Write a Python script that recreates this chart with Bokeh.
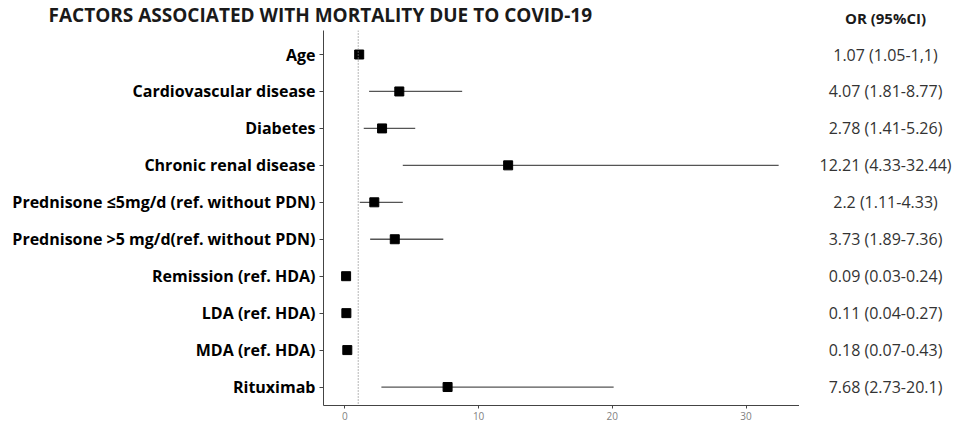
from bokeh.plotting import figure
from bokeh.models import Range1d, FixedTicker, Span, ColumnDataSource
from bokeh.layouts import column, row
from bokeh.core.properties import value
from bokeh.embed import file_html
from bokeh.resources import INLINE

title_text = "FACTORS ASSOCIATED WITH MORTALITY DUE TO COVID-19"
column_header = "OR (95%CI)"
categories = ["Age", "Cardiovascular disease", "Diabetes", "Chronic renal disease",
              "Prednisone \u22645mg/d (ref. without PDN)", "Prednisone >5 mg/d(ref. without PDN)",
              "Remission (ref. HDA)", "LDA (ref. HDA)", "MDA (ref. HDA)", "Rituximab"]
odds = [1.07, 4.07, 2.78, 12.21, 2.2, 3.73, 0.09, 0.11, 0.18, 7.68]
lower = [1.05, 1.81, 1.41, 4.33, 1.11, 1.89, 0.03, 0.04, 0.07, 2.73]
upper = [1.1, 8.77, 5.26, 32.44, 4.33, 7.36, 0.24, 0.27, 0.43, 20.1]
or_labels = ["1.07 (1.05-1,1)", "4.07 (1.81-8.77)", "2.78 (1.41-5.26)", "12.21 (4.33-32.44)",
             "2.2 (1.11-4.33)", "3.73 (1.89-7.36)", "0.09 (0.03-0.24)", "0.11 (0.04-0.27)",
             "0.18 (0.07-0.43)", "7.68 (2.73-20.1)"]
x_ticks = [0, 10, 20, 30]

n = len(categories)
ypos = [n - i for i in range(n)]

FONT = "Open Sans"
W, H = 967, 423
TOP_H = 30
MAIN_W = 799
BODY_H = H - TOP_H
B_TOP, B_BOT = 0, 18
OR_X = 885


def bare(fig):
    fig.outline_line_color = None
    fig.grid.visible = False
    fig.axis.visible = False
    return fig


# header strip: title and column header
top = bare(figure(width=W, height=TOP_H, output_backend="svg", toolbar_location=None,
                  x_range=Range1d(0, W), y_range=Range1d(TOP_H, 0), min_border=0))
top.text(x=[48], y=[14], text=[title_text], text_font=value(FONT), text_font_style="bold",
         text_font_size="19px", text_align="left", text_baseline="alphabetic", text_color="#1a1a1a")
top.text(x=[OR_X], y=[17], text=[column_header], text_font=value(FONT), text_font_style="bold",
         text_font_size="15px", text_align="center", text_baseline="middle", text_color="#1a1a1a")

# main forest plot
p = figure(width=MAIN_W, height=BODY_H, output_backend="svg", toolbar_location=None,
           x_range=Range1d(-1.6, 34.0), y_range=Range1d(0.5, 10.65),
           min_border_left=323, min_border_right=0, min_border_top=B_TOP, min_border_bottom=B_BOT)
p.outline_line_color = None
p.grid.visible = False

src = ColumnDataSource(dict(y=ypos, odds=odds, lo=lower, hi=upper))
p.segment(x0="lo", x1="hi", y0="y", y1="y", source=src, line_color="#555555", line_width=1.3)
p.scatter(x="odds", y="y", source=src, marker="square", size=9, fill_color="black", line_color="black")
p.add_layout(Span(location=1, dimension="height", line_color="#888888", line_dash="1 2", line_width=1.2))

xa = p.xaxis[0]
xa.ticker = FixedTicker(ticks=x_ticks)
xa.minor_tick_line_color = None
xa.major_tick_in = 0
xa.major_tick_out = 3
xa.axis_line_color = "#444444"
xa.major_tick_line_color = "#444444"
xa.major_label_text_color = "#7f7f7f"
xa.major_label_text_font = FONT
xa.major_label_text_font_size = "10px"
xa.major_label_standoff = 3

ya = p.yaxis[0]
ya.ticker = FixedTicker(ticks=ypos)
ya.major_label_overrides = {y: c for y, c in zip(ypos, categories)}
ya.minor_tick_line_color = None
ya.major_tick_in = 0
ya.major_tick_out = 4
ya.axis_line_color = "#444444"
ya.major_tick_line_color = "#444444"
ya.major_label_text_color = "black"
ya.major_label_text_font = FONT
ya.major_label_text_font_style = "bold"
ya.major_label_text_font_size = "16px"
ya.major_label_standoff = 4

# right column of OR values, sharing the y scale
r = bare(figure(width=W - MAIN_W, height=BODY_H, output_backend="svg", toolbar_location=None,
                x_range=Range1d(0, W - MAIN_W), y_range=p.y_range,
                min_border_left=0, min_border_right=0, min_border_top=B_TOP, min_border_bottom=B_BOT))
r.text(x=[OR_X - MAIN_W] * n, y=ypos, text=or_labels, text_font=value(FONT), text_font_size="16px",
       text_align="center", text_baseline="middle", text_color="#333333")

layout = column(top, row(p, r, spacing=0), spacing=0)
open("out.html", "w").write(file_html(layout, INLINE))
